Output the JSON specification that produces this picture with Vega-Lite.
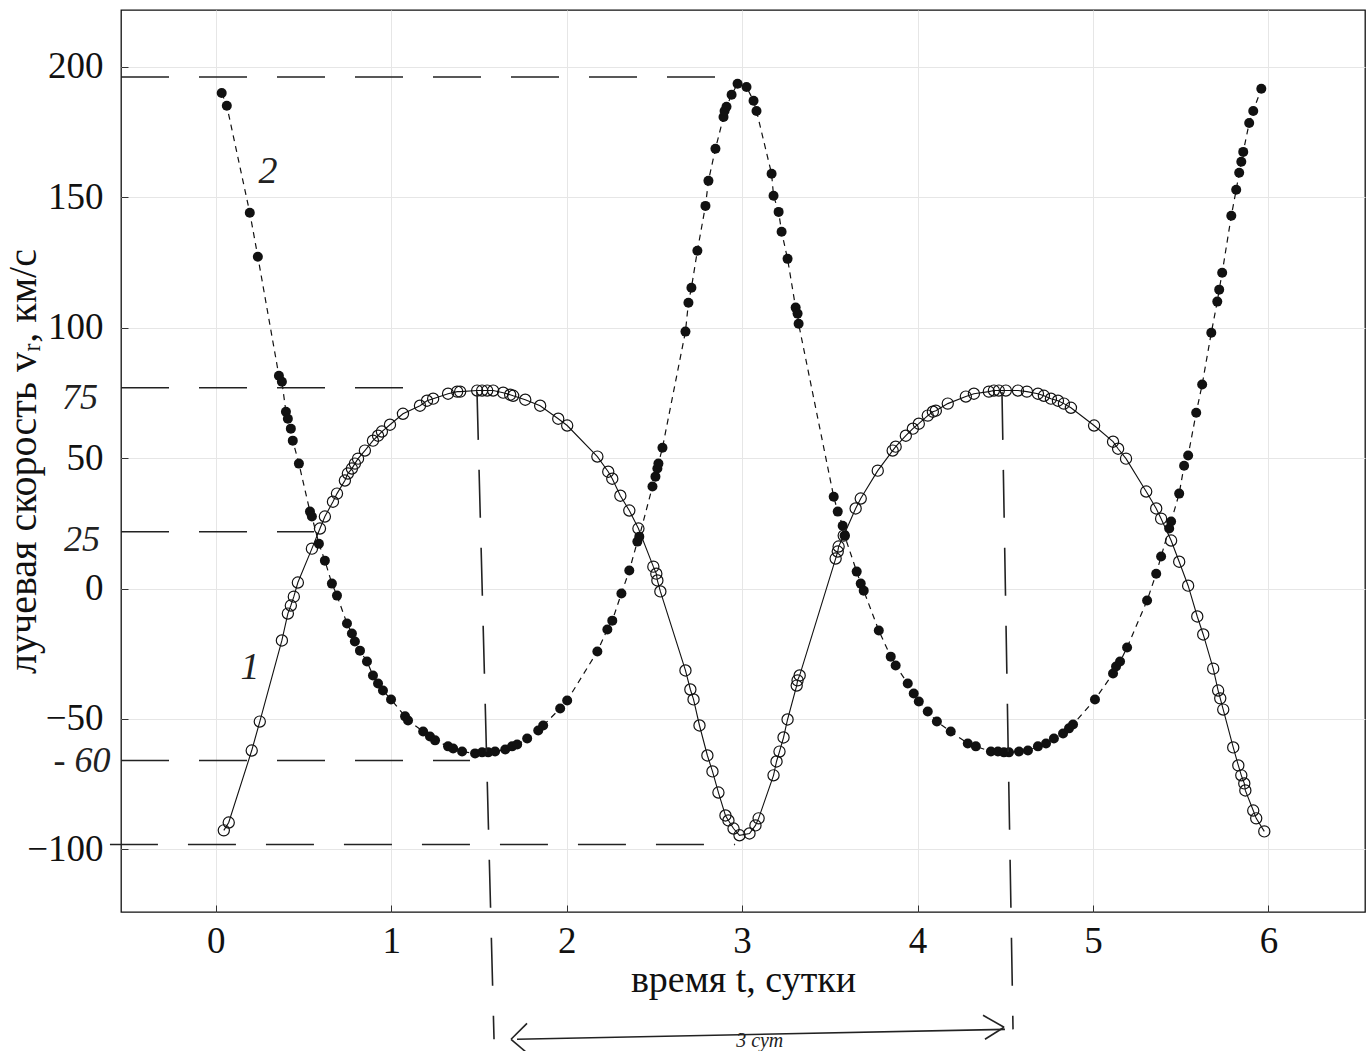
{
  "$schema": "https://vega.github.io/schema/vega-lite/v6.json",
  "width": 1244,
  "height": 902,
  "autosize": {"type": "none"},
  "padding": {"left": 121, "right": 5, "top": 10, "bottom": 139},
  "background": "white",
  "config": {
    "view": {"stroke": "#111", "strokeWidth": 1.3},
    "font": "Liberation Serif",
    "axis": {
      "labelFont": "Liberation Serif", "titleFont": "Liberation Serif",
      "labelFontSize": 37, "titleFontSize": 38, "labelColor": "#111", "titleColor": "#111",
      "titleFontWeight": "normal", "domain": false,
      "gridColor": "#e6e6e6", "gridWidth": 1,
      "tickColor": "#333", "tickSize": -7, "tickWidth": 1
    }
  },
  "datasets": {
    "obs": [
      {"t":0.046,"v":-92.7,"c":1},{"t":0.074,"v":-89.7,"c":1},{"t":0.205,"v":-62.1,"c":1},{"t":0.251,"v":-51.0,"c":1},
      {"t":0.377,"v":-19.9,"c":1},{"t":0.411,"v":-9.6,"c":1},{"t":0.428,"v":-6.5,"c":1},{"t":0.445,"v":-3.1,"c":1},
      {"t":0.468,"v":2.3,"c":1},{"t":0.548,"v":15.3,"c":1},{"t":0.594,"v":23.0,"c":1},{"t":0.622,"v":27.6,"c":1},
      {"t":0.668,"v":33.3,"c":1},{"t":0.691,"v":36.4,"c":1},{"t":0.736,"v":41.4,"c":1},{"t":0.753,"v":44.1,"c":1},
      {"t":0.776,"v":46.0,"c":1},{"t":0.793,"v":47.9,"c":1},{"t":0.811,"v":49.8,"c":1},{"t":0.850,"v":52.9,"c":1},
      {"t":0.896,"v":56.7,"c":1},{"t":0.925,"v":58.6,"c":1},{"t":0.947,"v":60.2,"c":1},{"t":0.993,"v":62.8,"c":1},
      {"t":1.067,"v":67.0,"c":1},{"t":1.164,"v":70.1,"c":1},{"t":1.204,"v":72.0,"c":1},{"t":1.239,"v":72.8,"c":1},
      {"t":1.324,"v":74.7,"c":1},{"t":1.376,"v":75.5,"c":1},{"t":1.393,"v":75.5,"c":1},{"t":1.490,"v":75.9,"c":1},
      {"t":1.518,"v":75.9,"c":1},{"t":1.547,"v":75.9,"c":1},{"t":1.581,"v":75.9,"c":1},{"t":1.638,"v":75.1,"c":1},
      {"t":1.678,"v":74.3,"c":1},{"t":1.695,"v":73.9,"c":1},{"t":1.764,"v":72.4,"c":1},{"t":1.849,"v":70.1,"c":1},
      {"t":1.952,"v":65.1,"c":1},{"t":2.003,"v":62.5,"c":1},{"t":2.175,"v":50.6,"c":1},{"t":2.237,"v":44.8,"c":1},
      {"t":2.260,"v":42.1,"c":1},{"t":2.306,"v":35.6,"c":1},{"t":2.357,"v":29.9,"c":1},{"t":2.409,"v":23.0,"c":1},
      {"t":2.494,"v":8.4,"c":1},{"t":2.511,"v":5.7,"c":1},{"t":2.517,"v":3.1,"c":1},{"t":2.534,"v":-1.1,"c":1},
      {"t":2.677,"v":-31.4,"c":1},{"t":2.705,"v":-38.7,"c":1},{"t":2.723,"v":-42.5,"c":1},{"t":2.757,"v":-52.5,"c":1},
      {"t":2.802,"v":-64.0,"c":1},{"t":2.831,"v":-70.1,"c":1},{"t":2.865,"v":-78.2,"c":1},{"t":2.905,"v":-87.0,"c":1},
      {"t":2.922,"v":-88.9,"c":1},{"t":2.951,"v":-92.0,"c":1},{"t":2.985,"v":-94.6,"c":1},{"t":3.042,"v":-93.9,"c":1},
      {"t":3.076,"v":-90.8,"c":1},{"t":3.094,"v":-88.1,"c":1},{"t":3.179,"v":-71.6,"c":1},{"t":3.196,"v":-66.3,"c":1},
      {"t":3.213,"v":-62.5,"c":1},{"t":3.236,"v":-57.1,"c":1},{"t":3.259,"v":-50.2,"c":1},{"t":3.311,"v":-37.2,"c":1},
      {"t":3.316,"v":-35.2,"c":1},{"t":3.328,"v":-33.3,"c":1},{"t":3.533,"v":11.5,"c":1},{"t":3.545,"v":14.2,"c":1},
      {"t":3.550,"v":16.1,"c":1},{"t":3.579,"v":20.3,"c":1},{"t":3.647,"v":30.7,"c":1},{"t":3.676,"v":34.5,"c":1},
      {"t":3.773,"v":45.2,"c":1},{"t":3.858,"v":52.9,"c":1},{"t":3.875,"v":54.4,"c":1},{"t":3.933,"v":58.6,"c":1},
      {"t":3.973,"v":61.3,"c":1},{"t":4.007,"v":63.2,"c":1},{"t":4.058,"v":66.3,"c":1},{"t":4.087,"v":67.8,"c":1},
      {"t":4.104,"v":68.2,"c":1},{"t":4.172,"v":70.9,"c":1},{"t":4.275,"v":73.6,"c":1},{"t":4.321,"v":74.7,"c":1},
      {"t":4.406,"v":75.5,"c":1},{"t":4.435,"v":75.9,"c":1},{"t":4.463,"v":75.9,"c":1},{"t":4.503,"v":75.9,"c":1},
      {"t":4.572,"v":75.9,"c":1},{"t":4.623,"v":75.5,"c":1},{"t":4.686,"v":74.7,"c":1},{"t":4.720,"v":73.9,"c":1},
      {"t":4.760,"v":72.8,"c":1},{"t":4.800,"v":72.0,"c":1},{"t":4.834,"v":70.9,"c":1},{"t":4.874,"v":69.3,"c":1},
      {"t":5.006,"v":62.5,"c":1},{"t":5.114,"v":56.3,"c":1},{"t":5.143,"v":53.6,"c":1},{"t":5.188,"v":49.8,"c":1},
      {"t":5.303,"v":37.2,"c":1},{"t":5.360,"v":30.7,"c":1},{"t":5.388,"v":26.8,"c":1},{"t":5.445,"v":18.4,"c":1},
      {"t":5.491,"v":10.3,"c":1},{"t":5.542,"v":1.1,"c":1},{"t":5.594,"v":-10.7,"c":1},{"t":5.628,"v":-17.6,"c":1},
      {"t":5.685,"v":-30.7,"c":1},{"t":5.713,"v":-39.1,"c":1},{"t":5.725,"v":-42.1,"c":1},{"t":5.742,"v":-46.4,"c":1},
      {"t":5.799,"v":-60.9,"c":1},{"t":5.828,"v":-67.8,"c":1},{"t":5.845,"v":-71.6,"c":1},{"t":5.862,"v":-74.7,"c":1},
      {"t":5.868,"v":-77.4,"c":1},{"t":5.913,"v":-85.1,"c":1},{"t":5.930,"v":-88.1,"c":1},{"t":5.976,"v":-93.1,"c":1},

      {"t":0.034,"v":190.0,"c":2},{"t":0.063,"v":185.1,"c":2},{"t":0.194,"v":144.1,"c":2},{"t":0.240,"v":127.2,"c":2},
      {"t":0.360,"v":81.6,"c":2},{"t":0.377,"v":79.3,"c":2},{"t":0.400,"v":67.8,"c":2},{"t":0.411,"v":65.1,"c":2},
      {"t":0.428,"v":61.3,"c":2},{"t":0.439,"v":56.7,"c":2},{"t":0.474,"v":47.9,"c":2},{"t":0.537,"v":29.5,"c":2},
      {"t":0.548,"v":27.6,"c":2},{"t":0.588,"v":17.2,"c":2},{"t":0.622,"v":10.7,"c":2},{"t":0.662,"v":1.9,"c":2},
      {"t":0.691,"v":-2.7,"c":2},{"t":0.748,"v":-13.4,"c":2},{"t":0.776,"v":-17.2,"c":2},{"t":0.793,"v":-20.3,"c":2},
      {"t":0.822,"v":-23.8,"c":2},{"t":0.862,"v":-28.0,"c":2},{"t":0.896,"v":-33.3,"c":2},{"t":0.925,"v":-36.4,"c":2},
      {"t":0.953,"v":-39.1,"c":2},{"t":0.999,"v":-42.5,"c":2},{"t":1.079,"v":-49.0,"c":2},{"t":1.096,"v":-50.6,"c":2},
      {"t":1.182,"v":-54.8,"c":2},{"t":1.221,"v":-56.7,"c":2},{"t":1.250,"v":-58.2,"c":2},{"t":1.324,"v":-60.5,"c":2},
      {"t":1.353,"v":-61.3,"c":2},{"t":1.404,"v":-62.5,"c":2},{"t":1.478,"v":-63.2,"c":2},{"t":1.518,"v":-62.8,"c":2},
      {"t":1.553,"v":-62.8,"c":2},{"t":1.592,"v":-62.5,"c":2},{"t":1.650,"v":-61.7,"c":2},{"t":1.689,"v":-60.5,"c":2},
      {"t":1.718,"v":-59.8,"c":2},{"t":1.775,"v":-57.5,"c":2},{"t":1.838,"v":-54.4,"c":2},{"t":1.866,"v":-52.5,"c":2},
      {"t":1.963,"v":-46.0,"c":2},{"t":2.003,"v":-42.9,"c":2},{"t":2.175,"v":-24.1,"c":2},{"t":2.232,"v":-15.7,"c":2},
      {"t":2.260,"v":-12.3,"c":2},{"t":2.312,"v":-1.9,"c":2},{"t":2.357,"v":6.9,"c":2},{"t":2.403,"v":18.0,"c":2},
      {"t":2.414,"v":19.9,"c":2},{"t":2.489,"v":39.1,"c":2},{"t":2.506,"v":42.9,"c":2},{"t":2.517,"v":46.0,"c":2},
      {"t":2.523,"v":47.9,"c":2},{"t":2.546,"v":54.0,"c":2},{"t":2.677,"v":98.5,"c":2},{"t":2.694,"v":109.6,"c":2},
      {"t":2.711,"v":115.3,"c":2},{"t":2.745,"v":129.5,"c":2},{"t":2.791,"v":146.7,"c":2},{"t":2.808,"v":156.3,"c":2},
      {"t":2.848,"v":168.6,"c":2},{"t":2.894,"v":180.8,"c":2},{"t":2.900,"v":183.1,"c":2},{"t":2.911,"v":184.7,"c":2},
      {"t":2.940,"v":189.3,"c":2},{"t":2.974,"v":193.5,"c":2},{"t":3.025,"v":192.3,"c":2},{"t":3.065,"v":187.0,"c":2},
      {"t":3.082,"v":183.1,"c":2},{"t":3.168,"v":159.0,"c":2},{"t":3.179,"v":150.6,"c":2},{"t":3.208,"v":144.4,"c":2},
      {"t":3.225,"v":136.8,"c":2},{"t":3.259,"v":126.4,"c":2},{"t":3.305,"v":107.7,"c":2},{"t":3.316,"v":105.4,"c":2},
      {"t":3.322,"v":101.5,"c":2},{"t":3.522,"v":35.2,"c":2},{"t":3.545,"v":29.5,"c":2},{"t":3.573,"v":24.1,"c":2},
      {"t":3.584,"v":20.3,"c":2},{"t":3.653,"v":6.5,"c":2},{"t":3.676,"v":1.9,"c":2},{"t":3.693,"v":-0.8,"c":2},
      {"t":3.779,"v":-16.1,"c":2},{"t":3.847,"v":-26.1,"c":2},{"t":3.875,"v":-29.5,"c":2},{"t":3.944,"v":-36.4,"c":2},
      {"t":3.978,"v":-40.2,"c":2},{"t":4.007,"v":-43.3,"c":2},{"t":4.058,"v":-47.1,"c":2},{"t":4.110,"v":-51.0,"c":2},
      {"t":4.189,"v":-54.8,"c":2},{"t":4.286,"v":-59.4,"c":2},{"t":4.332,"v":-60.5,"c":2},{"t":4.418,"v":-62.5,"c":2},
      {"t":4.458,"v":-62.5,"c":2},{"t":4.492,"v":-62.8,"c":2},{"t":4.521,"v":-62.8,"c":2},{"t":4.578,"v":-62.5,"c":2},
      {"t":4.629,"v":-62.1,"c":2},{"t":4.686,"v":-60.5,"c":2},{"t":4.732,"v":-59.4,"c":2},{"t":4.777,"v":-57.5,"c":2},
      {"t":4.829,"v":-55.6,"c":2},{"t":4.863,"v":-53.6,"c":2},{"t":4.886,"v":-52.1,"c":2},{"t":5.011,"v":-42.5,"c":2},
      {"t":5.114,"v":-32.6,"c":2},{"t":5.131,"v":-29.9,"c":2},{"t":5.154,"v":-28.0,"c":2},{"t":5.194,"v":-22.6,"c":2},
      {"t":5.308,"v":-4.6,"c":2},{"t":5.360,"v":5.7,"c":2},{"t":5.388,"v":12.3,"c":2},{"t":5.434,"v":23.0,"c":2},
      {"t":5.445,"v":25.7,"c":2},{"t":5.491,"v":36.4,"c":2},{"t":5.519,"v":47.1,"c":2},{"t":5.542,"v":51.0,"c":2},
      {"t":5.588,"v":67.4,"c":2},{"t":5.622,"v":78.2,"c":2},{"t":5.674,"v":98.1,"c":2},{"t":5.708,"v":110.0,"c":2},
      {"t":5.719,"v":114.6,"c":2},{"t":5.736,"v":121.1,"c":2},{"t":5.788,"v":142.9,"c":2},{"t":5.816,"v":152.9,"c":2},
      {"t":5.833,"v":159.4,"c":2},{"t":5.845,"v":163.6,"c":2},{"t":5.856,"v":167.4,"c":2},{"t":5.890,"v":178.5,"c":2},
      {"t":5.913,"v":183.1,"c":2},{"t":5.959,"v":191.6,"c":2}
    ],
    "guides": [
      {"t":-0.54,"v":196.1,"t2":2.97,"v2":196.1},
      {"t":-0.54,"v":77.0,"t2":1.22,"v2":77.0},
      {"t":-0.54,"v":21.8,"t2":0.56,"v2":21.8},
      {"t":-0.54,"v":-65.9,"t2":1.449,"v2":-65.9},
      {"t":-0.603,"v":-98.1,"t2":2.96,"v2":-98.1},
      {"t":1.489,"v":75.4,"t2":1.586,"v2":-172.8},
      {"t":4.481,"v":75.4,"t2":4.544,"v2":-169.0}
    ],
    "arrow": [
      {"t":1.717,"v":-172.8,"t2":4.498,"v2":-169.0},
      {"t":4.373,"v":-163.6,"t2":4.493,"v2":-168.2},
      {"t":4.384,"v":-172.8,"t2":4.493,"v2":-168.2},
      {"t":1.774,"v":-166.7,"t2":1.683,"v2":-172.8},
      {"t":1.683,"v":-172.8,"t2":1.791,"v2":-179.0}
    ],
    "notes": [
      {"t":0.298,"v":159.7,"label":"2","fs":38},
      {"t":0.195,"v":-30.3,"label":"1","fs":38},
      {"t":-0.774,"v":73.1,"label":"75","fs":36},
      {"t":-0.762,"v":18.7,"label":"25","fs":36},
      {"t":-0.762,"v":-66.3,"label":"- 60","fs":36},
      {"t":3.10,"v":-173.6,"label":"3 сут","fs":20}
    ]
  },
  "encoding": {
    "x": {
      "field": "t", "type": "quantitative",
      "scale": {"domain": [-0.54, 6.55], "nice": false, "zero": false},
      "axis": {"values": [0,1,2,3,4,5,6], "title": "время t, сутки", "labelPadding": 18, "titlePadding": 2, "grid": true}
    },
    "y": {
      "field": "v", "type": "quantitative",
      "scale": {"domain": [-124, 221.8], "nice": false, "zero": false},
      "axis": {"values": [-100,-50,0,50,100,150,200], "title": "лучевая скорость vᵣ, км/с", "titleFontSize": 40, "labelPadding": 25, "titleX": -98, "titleBaseline": "middle", "grid": true}
    }
  },
  "layer": [
    {
      "data": {"name": "obs"},
      "transform": [{"filter": "datum.c == 1"}],
      "mark": {"type": "line", "color": "#111", "strokeWidth": 1.1}
    },
    {
      "data": {"name": "obs"},
      "transform": [{"filter": "datum.c == 2"}],
      "mark": {"type": "line", "color": "#111", "strokeWidth": 1.2, "strokeDash": [6, 5]}
    },
    {
      "data": {"name": "obs"},
      "transform": [{"filter": "datum.c == 1"}],
      "mark": {"type": "point", "shape": "circle", "filled": false, "color": "#111", "strokeWidth": 1.2, "size": 125, "opacity": 1}
    },
    {
      "data": {"name": "obs"},
      "transform": [{"filter": "datum.c == 2"}],
      "mark": {"type": "point", "shape": "circle", "filled": true, "color": "#111", "size": 100, "opacity": 1}
    },
    {
      "data": {"name": "guides"},
      "mark": {"type": "rule", "color": "#222", "strokeWidth": 1.6, "strokeDash": [48, 30], "clip": false},
      "encoding": {"x2": {"field": "t2"}, "y2": {"field": "v2"}}
    },
    {
      "data": {"name": "arrow"},
      "mark": {"type": "rule", "color": "#222", "strokeWidth": 1.6, "clip": false},
      "encoding": {"x2": {"field": "t2"}, "y2": {"field": "v2"}}
    },
    {
      "data": {"name": "notes"},
      "mark": {"type": "text", "font": "Liberation Serif", "fontStyle": "italic", "color": "#222", "align": "center", "baseline": "middle", "clip": false},
      "encoding": {"text": {"field": "label"}, "size": {"field": "fs", "type": "quantitative", "scale": null}}
    }
  ]
}
